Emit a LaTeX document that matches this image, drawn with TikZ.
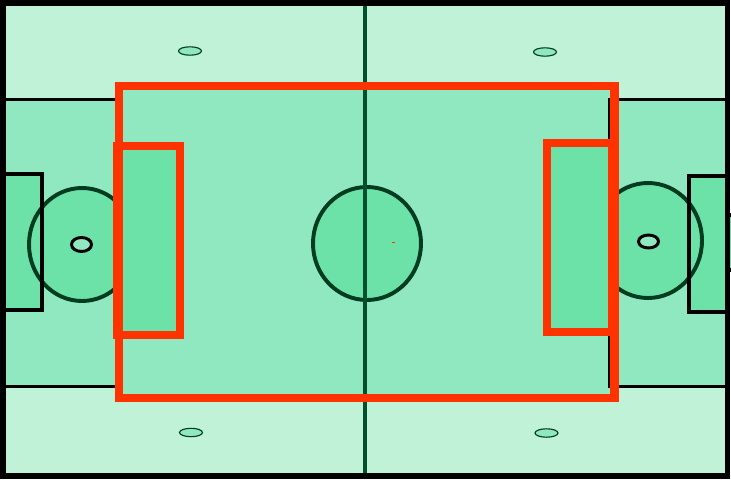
\documentclass[tikz,border=0pt]{standalone}
\usepackage{tikz}
\definecolor{grasslight}{HTML}{C0F2D8}
\definecolor{grassmid}{HTML}{90E8C0}
\definecolor{grassdark}{HTML}{6CE2A8}
\definecolor{circleline}{HTML}{003D20}
\definecolor{halfline}{HTML}{00502C}
\definecolor{zonered}{HTML}{FF3300}
\begin{document}
\begin{tikzpicture}[
  x=0.025cm, y=-0.025cm,
  pitchline/.style={draw=black, line width=2.2pt},
  boxline/.style={draw=black, line width=2.6pt},
  ringline/.style={draw=circleline, line width=2.8pt, fill=grassdark},
  spotline/.style={draw=black, line width=2.1pt, fill=grassmid},
  marker/.style={draw=circleline, line width=0.8pt, fill=grassmid},
  zonebox/.style={draw=zonered, line width=5.8pt}
]
\useasboundingbox (0,0) rectangle (731,480);

% field and middle strip
\fill[grasslight] (3,3) rectangle (727,476);
\fill[grassmid] (119,86) rectangle (614,398);
\filldraw[grassmid, pitchline] (3,99.5) rectangle (119,386.5);
\filldraw[grassmid, pitchline] (610,99.5) rectangle (727,386.5);

% goals
\filldraw[grassdark, boxline] (-6,206) rectangle (3,277);
\filldraw[grassdark, boxline] (727,215) rectangle (736,270);

% goal boxes, rings and spots
\fill[grassdark] (3,174) rectangle (42,310);
\fill[grassdark] (689,176) rectangle (727,312);
\path[ringline] (82,244.5) ellipse (53 and 56.5);
\path[ringline] (648,240.5) ellipse (54 and 57.5);
\draw[boxline] (3,174) rectangle (42,310);
\draw[boxline] (689,176) rectangle (727,312);
\path[spotline] (81.5,244.5) ellipse (10 and 7);
\path[spotline] (648.5,241.5) ellipse (10 and 6.5);

% centre ring and halfway line
\path[ringline] (367,243.5) ellipse (54 and 56.5);
\draw[halfline, line width=2.6pt] (365,3) -- (365,476);
\draw[zonered, line width=0.5pt] (392,242) -- (395,242);

% small markers
\foreach \mx/\my in {190/51, 545/52, 191/432.5, 546.5/433}
  \path[marker] (\mx,\my) ellipse (11.5 and 4.2);

% red zones
\filldraw[grassdark, zonebox] (117,146) rectangle (180,335);
\filldraw[grassdark, zonebox] (547,143) rectangle (612,332);
\draw[zonebox] (119,86) rectangle (614.5,398);

% outer border
\draw[black, line width=3.6pt] (3,3) rectangle (727.5,476);
\end{tikzpicture}
\end{document}
